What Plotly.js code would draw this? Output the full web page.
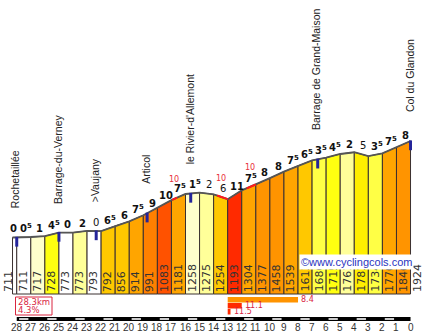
<!DOCTYPE html>
<html><head><meta charset="utf-8">
<script src="https://cdn.plot.ly/plotly-3.0.1.min.js"></script>
<style>html,body{margin:0;padding:0;background:#fff}#chart{width:426px;height:334px}</style>
</head><body><div id="chart"></div>
<script>
// ---- data ----
const kmPoints = [28.3, 28, 27, 26, 25, 24, 23, 22, 21, 20, 19, 18, 17, 16, 15, 14, 13, 12, 11, 10, 9, 8, 7, 6, 5, 4, 3, 2, 1, 0];
const altitudes = [711, 711, 717, 728, 773, 773, 793, 792, 856, 914, 991, 1083, 1181, 1258, 1275, 1254, 1193, 1304, 1377, 1458, 1539, 1613, 1680, 1715, 1761, 1783, 1734, 1770, 1846, 1924];
const kmTicks = [28, 27, 26, 25, 24, 23, 22, 21, 20, 19, 18, 17, 16, 15, 14, 13, 12, 11, 10, 9, 8, 7, 6, 5, 4, 3, 2, 1, 0];
const placeNames = ['Rochetaillée', 'Barrage-du-Verney', '>Vaujany', 'Articol', "le Rivier-d'Allemont", 'Barrage de Grand-Maison', 'Col du Glandon'];
const placeKm = [28, 25, 22.35, 18.73, 15.63, 6.6, 0];
const placeAlt = [711, 773, 792, 1016, 1264, 1694, 1924];
const steepFrom = [16.95, 13.75, 11.65];
const steepTo = [16.6, 13.0, 11.0];
const steepLabel = ['10', '10', '10'];
const statFrom = [13, 13, 13];
const statTo = [8, 12, 12.8];
const statValue = [8.4, 11.1, 11.5];
const siteText = '©www.cyclingcols.com';

// ---- helpers ----
const W = 426, H = 334;
const py = y => 1 - y / H;
const px = x => x / W;
const CRIMSON = '#d9253f';
function altAt(k) {
  for (let i = 0; i < kmPoints.length - 1; i++) {
    const a = kmPoints[i], b = kmPoints[i + 1];
    if (k <= a && k >= b) return altitudes[i] + (altitudes[i + 1] - altitudes[i]) * (a - k) / (a - b);
  }
  return altitudes[altitudes.length - 1];
}
function roundGrad(g) { return Math.round(Math.abs(g) * 2) / 2; }
function gradColor(v) {
  if (v < 1) return '#FFFFFF';
  if (v < 2) return '#FFFFCC';
  if (v < 3) return '#FFFF99';
  if (v < 4) return '#FFFF45';
  if (v < 5) return '#FFFF10';
  if (v < 6) return '#FFEE00';
  if (v < 7) return '#FFC800';
  if (v < 8) return '#FFA500';
  if (v < 9) return '#FF9400';
  if (v < 10) return '#FF8000';
  if (v < 11) return '#FF5200';
  return '#FF2A00';
}

const traces = [];
const annotations = [];
const shapes = [];

// segments
for (let i = 0; i < kmPoints.length - 1; i++) {
  const k0 = kmPoints[i], k1 = kmPoints[i + 1];
  const a0 = altitudes[i], a1 = altitudes[i + 1];
  const g = (a1 - a0) / ((k0 - k1) * 10);
  const v = roundGrad(g);
  traces.push({
    type: 'scatter', mode: 'lines', fill: 'toself',
    x: [k0, k0, k1, k1, k0], y: [0, a0, a1, 0, 0],
    fillcolor: gradColor(v), line: {color: '#3a3030', width: 1},
    hoverinfo: 'skip'
  });
  const ip = Math.floor(v), half = (v % 1) !== 0;
  let txt = String(ip) + (half ? '<sup>5</sup>' : '');
  if (g >= 0) txt = '<b>' + txt + '</b>';
  annotations.push({
    x: (k0 + k1) / 2, y: (a0 + a1) / 2, xref: 'x', yref: 'y',
    text: txt, showarrow: false, xanchor: 'center', yanchor: 'bottom', xshift: i === 0 ? -1 : 2, yshift: 2, borderpad: 0,
    font: {family: 'DejaVu Sans', size: 10, color: '#111'}
  });
}
// profile outline
traces.push({type: 'scatter', mode: 'lines', x: kmPoints, y: altitudes,
  line: {color: '#555', width: 1.8}, hoverinfo: 'skip'});
// steepest 100 m parts
for (let i = 0; i < steepFrom.length; i++) {
  traces.push({type: 'scatter', mode: 'lines', x: [steepFrom[i], steepTo[i]],
    y: [altAt(steepFrom[i]), altAt(steepTo[i])], line: {color: '#ff1a1a', width: 2}, hoverinfo: 'skip'});
  const km = (steepFrom[i] + steepTo[i]) / 2;
  annotations.push({x: km, y: altAt(km), xref: 'x', yref: 'y', text: steepLabel[i], showarrow: false,
    yanchor: 'middle', xshift: -1, yshift: 19, borderpad: 0, font: {family: 'DejaVu Sans', size: 8, color: '#e8303a'}});
}
// altitude labels
for (let i = 0; i < kmPoints.length; i++) {
  annotations.push({x: kmPoints[i], y: 0, xref: 'x', yref: 'y', text: String(altitudes[i]),
    showarrow: false, textangle: -90, xanchor: 'center', yanchor: 'bottom', borderpad: 0,
    xshift: i === 0 ? -4 : 6.5, yshift: 1,
    font: {family: 'DejaVu Sans', size: 11, color: '#333'}});
}
// places
for (let i = 0; i < placeNames.length; i++) {
  shapes.push({type: 'line', xref: 'x', yref: 'y', x0: placeKm[i], x1: placeKm[i],
    y0: placeAlt[i] + 8, y1: placeAlt[i] - 115, line: {color: '#24249a', width: 3}, layer: 'above'});
  annotations.push({x: placeKm[i], y: placeAlt[i], xref: 'x', yref: 'y', text: placeNames[i],
    showarrow: false, textangle: -90, xanchor: 'center', yanchor: 'bottom', borderpad: 0,
    xshift: -1, yshift: 28, font: {family: 'Liberation Sans', size: 10.5, color: '#222'}});
}
// summary box
const total = kmPoints[0];
const avg = (altitudes[altitudes.length - 1] - altitudes[0]) / (total * 10);
shapes.push({type: 'rect', xref: 'paper', yref: 'paper', x0: px(15.5), x1: px(52), y0: py(297), y1: py(315),
  line: {color: CRIMSON, width: 1}, fillcolor: 'rgba(0,0,0,0)'});
annotations.push({xref: 'paper', yref: 'paper', x: px(17), y: py(301.8), xanchor: 'left', yanchor: 'middle',
  text: total.toFixed(1) + 'km', showarrow: false, borderpad: 0, font: {family: 'DejaVu Sans', size: 8.5, color: CRIMSON}});
annotations.push({xref: 'paper', yref: 'paper', x: px(17), y: py(310.2), xanchor: 'left', yanchor: 'middle',
  text: avg.toFixed(1) + '%', showarrow: false, borderpad: 0, font: {family: 'DejaVu Sans', size: 8.5, color: CRIMSON}});
// steepest stretches
for (let i = 0; i < statValue.length; i++) {
  const top = 297 + i * 6;
  shapes.push({type: 'rect', xref: 'x', yref: 'paper', x0: statFrom[i], x1: statTo[i], y0: py(top), y1: py(top + 5.5),
    line: {width: 0}, fillcolor: gradColor(roundGrad(statValue[i]))});
  annotations.push({xref: 'x', yref: 'paper', x: statTo[i], y: py(top + 2.8), xanchor: 'left', yanchor: 'middle',
    xshift: 2, text: statValue[i].toFixed(1), showarrow: false, borderpad: 0,
    font: {family: 'DejaVu Sans', size: 8, color: CRIMSON}});
}
// ruler
shapes.push({type: 'rect', xref: 'x', yref: 'paper', x0: kmTicks[0], x1: kmTicks[kmTicks.length - 1],
  y0: py(317), y1: py(321), line: {width: 0}, fillcolor: '#000'});
for (let i = 0; i < kmTicks.length - 1; i += 2) {
  shapes.push({type: 'rect', xref: 'x', yref: 'paper', x0: kmTicks[i] - 0.17, x1: kmTicks[i + 1] + 0.17,
    y0: py(318.2), y1: py(319.8), line: {width: 0}, fillcolor: '#fff'});
}
for (const k of kmTicks) {
  annotations.push({xref: 'x', yref: 'paper', x: k, y: py(327.5), text: String(k), showarrow: false,
    xanchor: 'center', yanchor: 'middle', borderpad: 0, font: {family: 'Liberation Sans', size: 10, color: '#333'}});
}
// site credit
annotations.push({xref: 'paper', yref: 'paper', x: px(414), y: py(262), xanchor: 'right', yanchor: 'middle',
  text: siteText, showarrow: false, bgcolor: '#fff', borderpad: 1,
  font: {family: 'Liberation Sans', size: 11, color: '#2a35c0'}});

const layout = {
  width: W, height: H, margin: {l: 0, r: 0, t: 0, b: 0},
  paper_bgcolor: '#fff', plot_bgcolor: '#fff', showlegend: false, hovermode: false,
  xaxis: {range: [29.19, -1.10], visible: false, fixedrange: true},
  yaxis: {range: [-503, 3698], visible: false, fixedrange: true},
  shapes: shapes, annotations: annotations
};
Plotly.newPlot('chart', traces, layout, {staticPlot: true, displayModeBar: false});
</script></body></html>
